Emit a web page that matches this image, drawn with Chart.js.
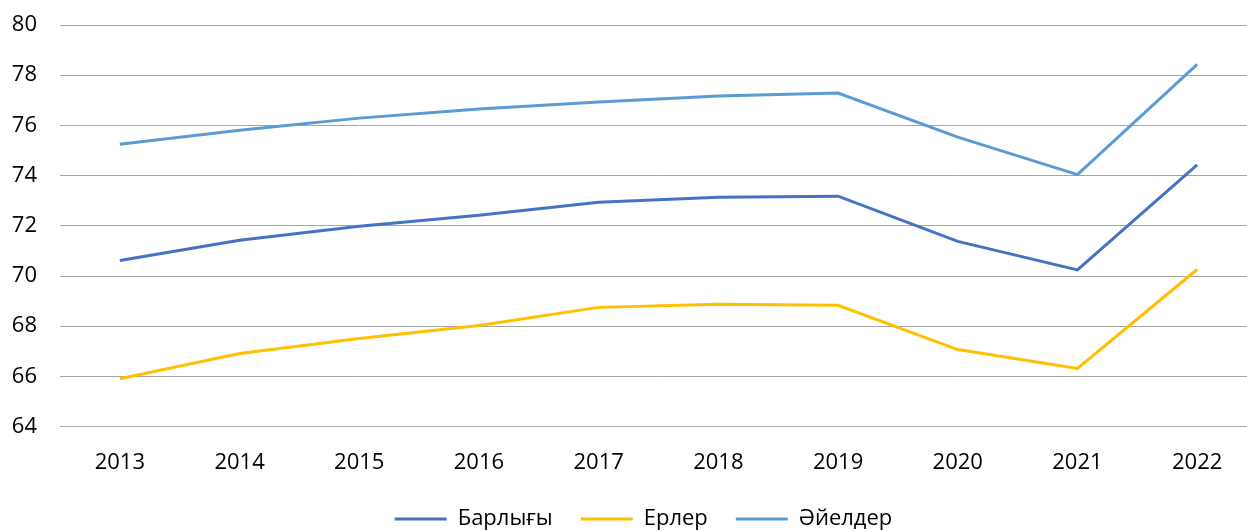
<!DOCTYPE html>
<html>
<head>
<meta charset="utf-8">
<script src="https://cdn.jsdelivr.net/npm/chart.js@4"></script>
<style>
  body { margin: 0; background: #fff; overflow: hidden; }
</style>
</head>
<body>
<canvas id="lineChart" width="1257" height="531"></canvas>
<script>
const years = ['2013', '2014', '2015', '2016', '2017', '2018', '2019', '2020', '2021', '2022'];
const barlygy = [70.62, 71.42, 71.98, 72.42, 72.94, 73.14, 73.18, 71.38, 70.24, 74.43];
const erler = [65.91, 66.91, 67.51, 68.03, 68.75, 68.87, 68.83, 67.07, 66.32, 70.26];
const aielder = [75.25, 75.81, 76.29, 76.65, 76.93, 77.17, 77.29, 75.53, 74.04, 78.43];

// legend sits a little right of centre in the original
const legendShift = {
    id: 'legendShift',
    afterLayout(chart) {
        chart.legend.left += 15;
        chart.legend.right += 15;
    }
};

const ctx = document.getElementById('lineChart').getContext('2d');
new Chart(ctx, {
    type: 'line',
    data: {
        labels: years,
        datasets: [{
            label: 'Барлығы',
            data: barlygy,
            borderColor: '#4472C4',
            backgroundColor: '#4472C4',
            borderWidth: 3,
            pointRadius: 0,
            tension: 0
        }, {
            label: 'Ерлер',
            data: erler,
            borderColor: '#FFC000',
            backgroundColor: '#FFC000',
            borderWidth: 3,
            pointRadius: 0,
            tension: 0
        }, {
            label: 'Әйелдер',
            data: aielder,
            borderColor: '#5B9BD5',
            backgroundColor: '#5B9BD5',
            borderWidth: 3,
            pointRadius: 0,
            tension: 0
        }]
    },
    plugins: [legendShift],
    options: {
        responsive: false,
        animation: false,
        layout: {
            padding: { left: 0, right: 0, top: 25, bottom: -9 }
        },
        plugins: {
            legend: {
                position: 'bottom',
                labels: {
                    usePointStyle: true,
                    pointStyle: 'line',
                    pointStyleWidth: 52,
                    color: '#000',
                    padding: 28,
                    font: { family: 'Open Sans', size: 22 }
                }
            },
            tooltip: { enabled: false }
        },
        scales: {
            x: {
                offset: true,
                grid: { display: false },
                border: { display: false },
                afterFit: (scale) => {
                    scale.height = scale.height - 11;
                    scale.paddingLeft = 0;
                    scale.paddingRight = 0;
                },
                ticks: {
                    color: '#000',
                    padding: 15,
                    font: { family: 'Open Sans', size: 22 }
                }
            },
            y: {
                min: 64,
                max: 80,
                afterFit: (scale) => {
                    scale.width = 60;
                    scale.paddingTop = 0;
                    scale.paddingBottom = 0;
                },
                ticks: {
                    stepSize: 2,
                    color: '#000',
                    padding: 23,
                    font: { family: 'Open Sans', size: 22 }
                },
                grid: { color: '#a6a6a6', lineWidth: 1, drawTicks: false },
                border: { display: false }
            }
        }
    }
});
</script>
</body>
</html>
